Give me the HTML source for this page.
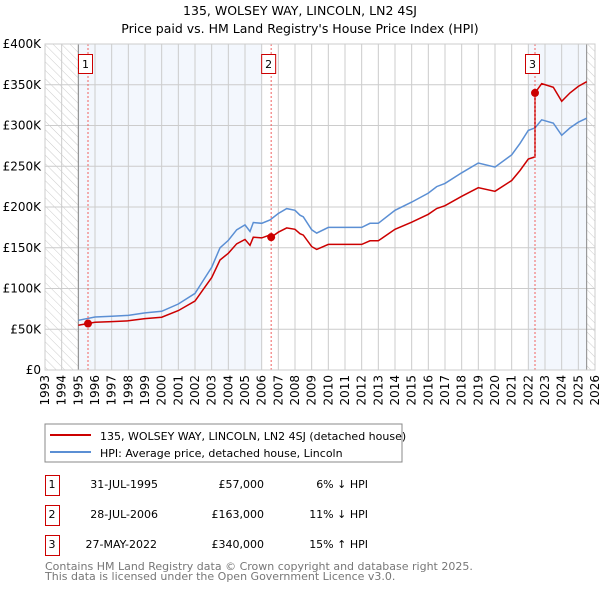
<!DOCTYPE html>
<html><head><meta charset="utf-8"><style>
body{margin:0;background:#fff;font-family:"DejaVu Sans","Liberation Sans",sans-serif;}
svg text{font-family:"DejaVu Sans","Liberation Sans",sans-serif;}
</style></head><body>
<svg id="c" width="600" height="590" xmlns="http://www.w3.org/2000/svg">
<defs><pattern id="hatch" width="6" height="6" patternUnits="userSpaceOnUse" patternTransform="rotate(-45)"><line x1="0" y1="0" x2="0" y2="6" stroke="#ccc" stroke-width="1"/></pattern></defs>
<text x="300" y="15" text-anchor="middle" font-size="12.5">135, WOLSEY WAY, LINCOLN, LN2 4SJ</text>
<text x="300" y="33" text-anchor="middle" font-size="12.5">Price paid vs. HM Land Registry's House Price Index (HPI)</text>
<g id="plot"></g>
<rect x="45" y="424" width="357" height="38" fill="#fff" stroke="#888"/>
<line x1="50" y1="435" x2="91" y2="435" stroke="#cc0000" stroke-width="2"/>
<text x="100" y="440" font-size="11">135, WOLSEY WAY, LINCOLN, LN2 4SJ (detached house)</text>
<line x1="50" y1="452" x2="91" y2="452" stroke="#5b8fd4" stroke-width="2"/>
<text x="100" y="457" font-size="11">HPI: Average price, detached house, Lincoln</text>
<g font-size="11">
<rect x="45.5" y="475.5" width="14" height="20" fill="none" stroke="#cc0000"/><text x="52" y="488" text-anchor="middle">1</text>
<text x="158" y="488" text-anchor="end">31-JUL-1995</text><text x="264" y="488" text-anchor="end">£57,000</text><text x="368" y="488" text-anchor="end">6% ↓ HPI</text>
<rect x="45.5" y="505.5" width="14" height="20" fill="none" stroke="#cc0000"/><text x="52" y="518" text-anchor="middle">2</text>
<text x="158" y="518" text-anchor="end">28-JUL-2006</text><text x="264" y="518" text-anchor="end">£163,000</text><text x="368" y="518" text-anchor="end">11% ↓ HPI</text>
<rect x="45.5" y="535.5" width="14" height="20" fill="none" stroke="#cc0000"/><text x="52" y="548" text-anchor="middle">3</text>
<text x="157" y="548" text-anchor="end">27-MAY-2022</text><text x="264" y="548" text-anchor="end">£340,000</text><text x="368" y="548" text-anchor="end">15% ↑ HPI</text>
</g>
<text x="45" y="570" font-size="11" fill="#777">Contains HM Land Registry data © Crown copyright and database right 2025.</text>
<text x="45" y="580" font-size="11" fill="#777">This data is licensed under the Open Government Licence v3.0.</text>
</svg>
<script>
const hpiYears=[1995,1996,1997,1998,1999,2000,2001,2002,2002.5,2003,2003.5,2004,2004.5,2005,2005.3,2005.5,2006,2006.5,2007,2007.5,2008,2008.3,2008.5,2009,2009.3,2010,2011,2012,2012.5,2013,2014,2015,2016,2016.5,2017,2018,2019,2020,2021,2021.5,2022,2022.4,2022.8,2023.5,2024,2024.5,2025,2025.5];
const hpiValues=[61,65,66,67,70,72,81,94,110,126,150,159,172,178,170,181,180,184,192,198,196,190,188,172,168,175,175,175,180,180,196,206,217,225,229,242,254,249,264,278,294,297,307,303,288,297,304,309];
const saleYears=[1995.58,2006.57,2022.4];
const salePrices=[57,163,340];
const saleLabels=["1","2","3"];
const yTicks=[0,50,100,150,200,250,300,350,400];
const yTickLabels=["£0","£50K","£100K","£150K","£200K","£250K","£300K","£350K","£400K"];
const xTicks=[1993,1994,1995,1996,1997,1998,1999,2000,2001,2002,2003,2004,2005,2006,2007,2008,2009,2010,2011,2012,2013,2014,2015,2016,2017,2018,2019,2020,2021,2022,2023,2024,2025,2026];

const X0=45,X1=595,Y0=370,Y1=44;
const sx=y=>X0+(y-1993)/(2026-1993)*(X1-X0);
const sy=v=>Y0-v/400*(Y0-Y1);
const NS="http://www.w3.org/2000/svg";
const g=document.getElementById('plot');
function mk(t,a){const e=document.createElementNS(NS,t);for(const k in a)e.setAttribute(k,a[k]);g.appendChild(e);return e;}
function hpiAt(t){for(let i=0;i<hpiYears.length-1;i++){if(t<=hpiYears[i+1]){const f=(t-hpiYears[i])/(hpiYears[i+1]-hpiYears[i]);return hpiValues[i]+f*(hpiValues[i+1]-hpiValues[i]);}}return hpiValues[hpiValues.length-1];}

let e;
e=mk('rect',{x:sx(1995),y:Y1,width:sx(2006)-sx(1995),height:Y0-Y1,fill:'#eef3fc',opacity:0.7});


e=mk('rect',{x:sx(2022),y:Y1,width:sx(2025.5)-sx(2022),height:Y0-Y1,fill:'#eef3fc',opacity:0.7});


e=mk('rect',{x:X0,y:Y1,width:sx(1995)-X0,height:Y0-Y1,fill:'url(#hatch)'});


e=mk('rect',{x:sx(2025.5),y:Y1,width:X1-sx(2025.5),height:Y0-Y1,fill:'url(#hatch)'});



yTicks.forEach((v,i)=>{
 e=mk('line',{x1:X0,x2:X1,y1:sy(v),y2:sy(v),stroke:'#ccc'});
 
 
 e=mk('text',{x:X0-4,y:sy(v)+4,'text-anchor':'end','font-size':'12'});e.textContent=yTickLabels[i];
 
 
});
xTicks.forEach(yr=>{
 e=mk('line',{x1:sx(yr),x2:sx(yr),y1:Y1,y2:Y0,stroke:'#ccc'});
 
 
 e=mk('text',{x:0,y:0,'font-size':'12','text-anchor':'end',transform:`translate(${sx(yr)+4},${Y0+5}) rotate(-90)`});e.textContent=yr;
 
 
});
e=mk('line',{x1:sx(1995),x2:sx(1995),y1:Y1,y2:Y0,stroke:'#888'});


e=mk('line',{x1:sx(2025.5),x2:sx(2025.5),y1:Y1,y2:Y0,stroke:'#888'});



let d=hpiYears.map((t,i)=>(i?'L':'M')+sx(t).toFixed(1)+','+sy(hpiValues[i]).toFixed(1)).join(' ');
e=mk('path',{d:d,fill:'none',stroke:'#5b8fd4','stroke-width':1.5});



let pts=[];
for(let s=0;s<saleYears.length;s++){
 const start=saleYears[s],end=s<saleYears.length-1?saleYears[s+1]:2025.5;
 const r=salePrices[s]/hpiAt(start);
 let ts=[start].concat(hpiYears.filter(t=>t>start&&t<end)).concat([end]);
 ts.forEach(t=>pts.push([t,hpiAt(t)*r]));
}
const r0=salePrices[0]/hpiAt(saleYears[0]);
pts.unshift([1995,hpiAt(1995)*r0]);
d=pts.map((p,i)=>(i?'L':'M')+sx(p[0]).toFixed(1)+','+sy(p[1]).toFixed(1)).join(' ');
e=mk('path',{d:d,fill:'none',stroke:'#cc0000','stroke-width':1.5});



saleYears.forEach((t,i)=>{
 e=mk('line',{x1:sx(t),x2:sx(t),y1:Y1,y2:Y0,stroke:'#f06060','stroke-dasharray':'2,2'});
 
 
 e=mk('circle',{cx:sx(t),cy:sy(salePrices[i]),r:4,fill:'#cc0000'});
 
 
 e=mk('rect',{x:sx(t)-9.5,y:54.5,width:14,height:19,fill:'#fff',stroke:'#cc0000'});
 
 
 e=mk('text',{x:sx(t)-2.5,y:68,'text-anchor':'middle','font-size':'11'});e.textContent=saleLabels[i];
 
 
});
e=mk('rect',{x:X0,y:Y1,width:X1-X0,height:Y0-Y1,fill:'none',stroke:'#ccc'});


</script>
</body></html>
